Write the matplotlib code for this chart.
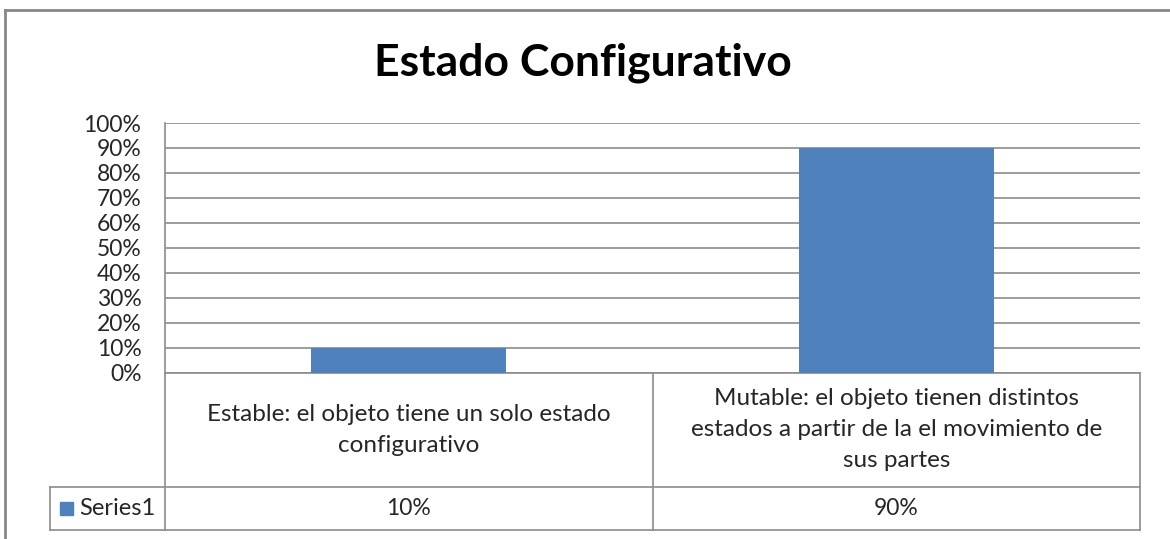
import matplotlib.pyplot as plt
from matplotlib.lines import Line2D
import matplotlib.transforms as mtransforms

plt.rcParams['font.family'] = ['Lato', 'DejaVu Sans']

# Datos
titulo = 'Estado Configurativo'
categorias = ['Estable: el objeto tiene un solo estado\nconfigurativo',
              'Mutable: el objeto tienen distintos\nestados a partir de la el movimiento de\nsus partes']
valores = [0.10, 0.90]
serie = 'Series1'
yticks = [0.0, 0.1, 0.2, 0.3, 0.4, 0.5, 0.6, 0.7, 0.8, 0.9, 1.0]

color_barra = '#4F81BD'
color_linea = '#8C8C8C'
color_texto = '#262626'

W, H = 1170, 539
fig = plt.figure(figsize=(W / 100, H / 100), dpi=100)

# Área del gráfico (en píxeles)
x0, x1 = 165, 1140
y_top, y_bot = 123, 372.5
ax = fig.add_axes([x0 / W, 1 - y_bot / H, (x1 - x0) / W, (y_bot - y_top) / H])

xs = range(len(categorias))
ax.bar(xs, valores, width=0.4, color=color_barra, zorder=3)
ax.set_xlim(-0.5, len(categorias) - 0.5)
ax.set_ylim(0, 1)
ax.set_yticks(yticks)
ax.set_yticklabels([f'{int(round(t * 100))}%' for t in yticks], fontsize=16.5,
                   color=color_texto)
ax.set_xticks([])
ax.tick_params(axis='y', length=0, pad=17)
ax.yaxis.grid(True, color=color_linea, linewidth=1.2, zorder=0)
for s in ['top', 'right', 'bottom']:
    ax.spines[s].set_visible(False)
ax.spines['left'].set_color(color_linea)
ax.spines['left'].set_linewidth(1.2)

# Tabla de datos debajo del eje
h_px = y_bot - y_top
def fy(py):
    return (y_bot - py) / h_px

trans = mtransforms.blended_transform_factory(ax.transData, ax.transAxes)
trans_ax = ax.transAxes
row1 = fy(487)
row2 = fy(530)
x_leyenda = (50 - x0) / (x1 - x0)

lw = 1.2
kw = dict(color=color_linea, linewidth=lw, clip_on=False)
# horizontales
ax.add_line(Line2D([0, 1], [0, 0], transform=trans_ax, **kw))
ax.add_line(Line2D([x_leyenda, 1], [row1, row1], transform=trans_ax, **kw))
ax.add_line(Line2D([x_leyenda, 1], [row2, row2], transform=trans_ax, **kw))
# verticales
ax.add_line(Line2D([0, 0], [0, row2], transform=trans_ax, **kw))
ax.add_line(Line2D([1, 1], [0, row2], transform=trans_ax, **kw))
ax.add_line(Line2D([x_leyenda, x_leyenda], [row1, row2], transform=trans_ax, **kw))
for i in range(len(categorias) - 1):
    ax.add_line(Line2D([i + 0.5, i + 0.5], [0, row2], transform=trans, **kw))

for i, (cat, v) in enumerate(zip(categorias, valores)):
    ax.text(i, (0 + row1) / 2, cat, transform=trans, ha='center', va='center',
            fontsize=17.5, linespacing=1.6, color=color_texto)
    ax.text(i, (row1 + row2) / 2, f'{int(round(v * 100))}%', transform=trans,
            ha='center', va='center', fontsize=16.5, color=color_texto)

# leyenda de la serie
ax.add_patch(plt.Rectangle((x_leyenda + 10 / (x1 - x0), (row1 + row2) / 2 - 6 / h_px),
                           13 / (x1 - x0), 13 / h_px, transform=trans_ax,
                           color=color_barra, clip_on=False))
ax.text(x_leyenda + 29 / (x1 - x0), (row1 + row2) / 2, serie, transform=trans_ax,
        ha='left', va='center', fontsize=17, color=color_texto)

fig.text(583 / W, 1 - 63 / H, titulo, ha='center', va='center',
         fontsize=32, fontweight='bold')

# marco exterior
fig.add_artist(Line2D([5 / W, 5 / W], [0, 1 - 10 / H], color='#888888', linewidth=2))
fig.add_artist(Line2D([5 / W, 1], [1 - 10 / H, 1 - 10 / H], color='#888888', linewidth=2))

fig.savefig('out.png', dpi=100)
